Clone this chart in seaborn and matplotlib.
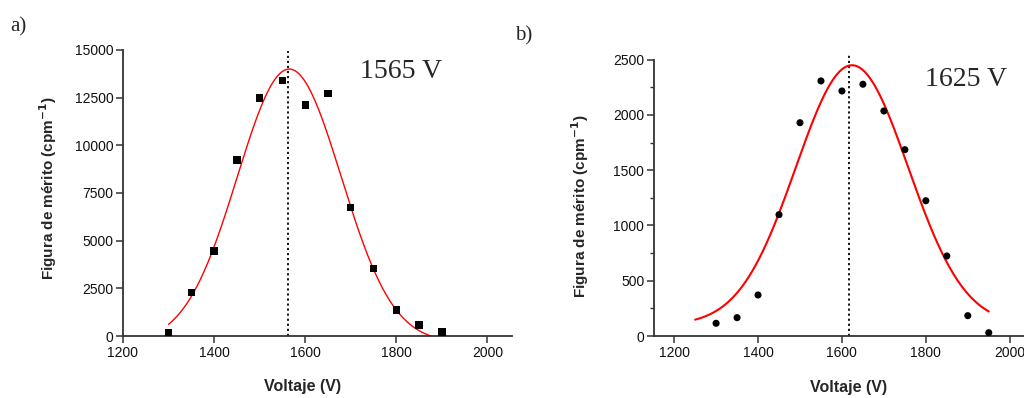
import numpy as np
import pandas as pd
import matplotlib
matplotlib.use("Agg")
import matplotlib.pyplot as plt
import seaborn as sns

# ---- data ----
volt_a = [1300, 1350, 1400, 1450, 1500, 1550, 1600, 1650, 1700, 1750, 1800, 1850, 1900]
fom_a = [170, 2280, 4460, 9230, 12480, 13400, 12110, 12720, 6750, 3530, 1370, 580, 210]

volt_b = [1300, 1350, 1400, 1450, 1500, 1550, 1600, 1650, 1700, 1750, 1800, 1850, 1900, 1950]
fom_b = [115, 166, 371, 1098, 1930, 2308, 2217, 2278, 2036, 1686, 1224, 724, 184, 30]

# Gaussian fit parameters (center, amplitude, width, offset) and fit range
fit_a = dict(xc=1565, A=14350, w=114, y0=-350, x0=1300, x1=1900)
fit_b = dict(xc=1624, A=2350, w=134, y0=100, x0=1250, x1=1950)

peak_a = 1563
peak_b = 1618
label_a = "1565 V"
label_b = "1625 V"

xticks = [1200, 1400, 1600, 1800, 2000]
yticks_a = [0, 2500, 5000, 7500, 10000, 12500, 15000]
yticks_b = [0, 500, 1000, 1500, 2000, 2500]


def gauss_curve(p, n=300):
    x = np.linspace(p["x0"], p["x1"], n)
    y = p["y0"] + p["A"] * np.exp(-(x - p["xc"]) ** 2 / (2 * p["w"] ** 2))
    return pd.DataFrame({"x": x, "y": y})


sns.set_style("ticks")
plt.rcParams["font.family"] = ["Liberation Sans", "DejaVu Sans"]

fig = plt.figure(figsize=(10.24, 3.98), dpi=100)
W, H = 1024, 398
ax_a = fig.add_axes([123 / W, (H - 336) / H, (512 - 123) / W, (336 - 50) / H])
ax_b = fig.add_axes([654 / W, (H - 336) / H, (1024 - 654) / W, (336 - 59.7) / H])

spine_color = "#333333"
ylab = r"Figura de mérito (cpm$^{\mathbf{-1}}$)"

def style_axis(ax):
    for s in ["top", "right"]:
        ax.spines[s].set_visible(False)
    for s in ["left", "bottom"]:
        ax.spines[s].set_color(spine_color)
        ax.spines[s].set_linewidth(1.3)
    ax.tick_params(axis="both", which="major", direction="out", length=5,
                   width=1.1, color=spine_color, labelsize=10, pad=2,
                   labelcolor="#111111")
    ax.tick_params(axis="both", which="minor", direction="out", length=3,
                   width=1.0, color=spine_color)

# ---- panel a ----
df_a = pd.DataFrame({"x": volt_a, "y": fom_a})
sns.lineplot(data=gauss_curve(fit_a), x="x", y="y", ax=ax_a, color="#ff0000",
             linewidth=1.0, zorder=2)
sns.scatterplot(data=df_a, x="x", y="y", ax=ax_a, marker="s", s=28,
                color="black", edgecolor="none", zorder=3)
ax_a.axvline(peak_a, ymin=0, ymax=0.995, color="black", linestyle=(0, (1.2, 1.6)),
             linewidth=1.3, zorder=1)
ax_a.set_xlim(1200, 2054)
ax_a.set_ylim(0, 15000)
ax_a.set_xticks(xticks)
ax_a.set_yticks(yticks_a)
style_axis(ax_a)
ax_a.set_xlabel("Voltaje (V)", fontsize=11.5, fontweight="bold")
ax_a.set_ylabel(ylab, fontsize=11, fontweight="bold")
ax_a.xaxis.set_label_coords((303 - 123) / (512 - 123), -(379 - 336) / (336 - 50))
ax_a.yaxis.set_label_coords(-(123 - 59) / (512 - 123), 0.515)
ax_a.text((360 - 123) / (512 - 123), (336 - 72) / (336 - 50), label_a,
          transform=ax_a.transAxes, family=["Liberation Serif", "DejaVu Serif"],
          fontsize=20, va="center", ha="left")

# ---- panel b ----
df_b = pd.DataFrame({"x": volt_b, "y": fom_b})
sns.lineplot(data=gauss_curve(fit_b), x="x", y="y", ax=ax_b, color="#ff0000",
             linewidth=1.5, zorder=2)
sns.scatterplot(data=df_b, x="x", y="y", ax=ax_b, marker="o", s=26,
                color="black", edgecolor="none", zorder=3)
ax_b.axvline(peak_b, ymin=0, ymax=1.025, color="black", linestyle=(0, (1.2, 1.6)),
             linewidth=1.3, zorder=1, clip_on=False)
ax_b.set_xlim(1152, 2034)
ax_b.set_ylim(0, 2500)
ax_b.set_xticks(xticks)
ax_b.set_yticks(yticks_b)
ax_b.yaxis.set_minor_locator(matplotlib.ticker.MultipleLocator(250))
style_axis(ax_b)
ax_b.set_xlabel("Voltaje (V)", fontsize=11.5, fontweight="bold")
ax_b.set_ylabel(ylab, fontsize=11, fontweight="bold")
ax_b.xaxis.set_label_coords((849 - 654) / (1024 - 654), -(380 - 336) / (336 - 59.7))
ax_b.yaxis.set_label_coords(-(654 - 591) / (1024 - 654), 0.47)
ax_b.text((925 - 654) / (1024 - 654), (336 - 80) / (336 - 59.7), label_b,
          transform=ax_b.transAxes, family=["Liberation Serif", "DejaVu Serif"],
          fontsize=20, va="center", ha="left")

# panel letters
fig.text(10 / W, 1 - 27 / H, "a)", family=["Liberation Serif", "DejaVu Serif"],
         fontsize=15, va="center", ha="left")
fig.text(515 / W, 1 - 36 / H, "b)", family=["Liberation Serif", "DejaVu Serif"],
         fontsize=15, va="center", ha="left")

fig.savefig("out.png", dpi=100)
